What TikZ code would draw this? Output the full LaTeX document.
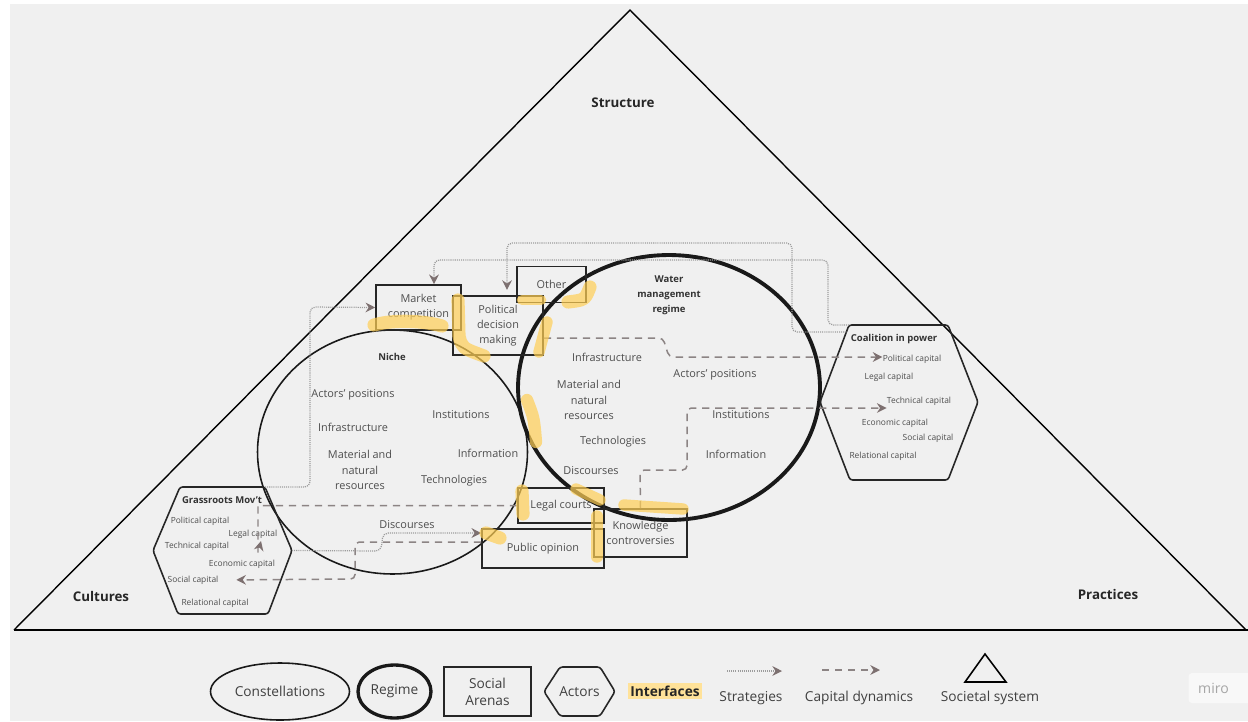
\documentclass[tikz,border=0pt]{standalone}
\usepackage{fontspec}
\setmainfont{Open Sans}
\usetikzlibrary{arrows.meta,shapes.geometric,calc}
\definecolor{bgGray}{HTML}{F0F0F0}
\definecolor{txtGray}{HTML}{4E4E4E}
\definecolor{lineGray}{HTML}{9C9C9C}
\definecolor{dashGray}{HTML}{8C8484}
\definecolor{tipGray}{HTML}{7D7070}
\definecolor{hiYellow}{HTML}{FFCF55}

\begin{document}
\begin{tikzpicture}[x=0.02cm, y=-0.02cm,
  lbl/.style={font=\fontsize{6.2}{8.6}\selectfont, text=txtGray, align=center, inner sep=0pt},
  capitem/.style={font=\fontsize{4.8}{6}\selectfont, text=txtGray, inner sep=0pt},
  ttl/.style={font=\fontsize{5.4}{8.5}\selectfont\bfseries, text=black!80, align=center, inner sep=0pt},
  corner/.style={font=\fontsize{7.6}{9}\selectfont\bfseries, text=black!85, inner sep=0pt},
  legend/.style={font=\fontsize{7.8}{9.6}\selectfont, text=black!75, align=center, inner sep=0pt},
  arena/.style={draw=black!85, line width=0.9pt},
  conste/.style={draw=black!90, ellipse, line width=0.9pt},
  regime/.style={draw=black!90, ellipse, line width=2.2pt},
  actor/.style={draw=black!85, line width=0.9pt, rounded corners=1.5pt},
  strat/.style={draw=lineGray, line width=0.7pt, dash pattern=on 0.6pt off 0.6pt, rounded corners=3pt,
    -{Stealth[length=5.5pt, width=5.5pt, inset=1.8pt, color=tipGray]}},
  capdyn/.style={draw=dashGray, line width=0.85pt, dash pattern=on 4.2pt off 3.2pt, rounded corners=2.5pt,
    -{Stealth[length=5.5pt, width=5.5pt, inset=1.8pt, color=tipGray]}},
  iface/.style={draw=hiYellow, draw opacity=0.7, line width=7.5pt, line cap=round, line join=round},
]
\useasboundingbox (0,0) rectangle (1248,721);
\fill[white] (0,0) rectangle (1248,721);
\fill[bgGray] (10,4) rectangle (1248,721);

% societal system
\draw[line width=0.8pt] (14,630) -- (630,10) -- (1246,630);
\draw[line width=0.8pt] (14,630) -- (1248,630);
\node[corner] (structure) at (623,103) {Structure};
\node[corner] (cultures) at (101,596) {Cultures};
\node[corner] (practices) at (1108,594) {Practices};

% constellations
\node[conste, minimum width=5.4cm, minimum height=4.88cm] (niche) at (392.5,452) {};
\node[regime, minimum width=6.04cm, minimum height=5.3cm] (wmr) at (669,387.5) {};

% social arenas
\node[arena, lbl, minimum width=1.7cm, minimum height=0.9cm] (market) at (418.5,307.5) {Market\\competition};
\node[arena, lbl, minimum width=1.8cm, minimum height=1.18cm] (political) at (498,325.5) {Political\\decision\\making};
\node[arena, lbl, minimum width=1.38cm, minimum height=0.72cm] (other) at (551.5,284.5) {Other};
\node[arena, lbl, minimum width=1.72cm, minimum height=0.7cm] (legal) at (561,505.5) {Legal courts};
\node[arena, lbl, minimum width=2.44cm, minimum height=0.78cm] (public) at (543,548.5) {Public opinion};
\node[arena, lbl, minimum width=1.86cm, minimum height=0.96cm] (knowledge) at (640.5,533) {Knowledge\\controversies};

% actors
\coordinate (gr-l) at (153,550.5);
\coordinate (gr-tl) at (180,487);
\coordinate (gr-tr) at (265,487);
\coordinate (gr-r) at (292,550.5);
\coordinate (gr-br) at (268,614);
\coordinate (gr-bl) at (178,614);
\draw[actor] (gr-l) -- (gr-tl) -- (gr-tr) -- (gr-r) -- (gr-br) -- (gr-bl) -- cycle;
\coordinate (co-l) at (820,402);
\coordinate (co-tl) at (849,325);
\coordinate (co-tr) at (948,325);
\coordinate (co-r) at (978,402);
\coordinate (co-br) at (948,480);
\coordinate (co-bl) at (850,480);
\draw[actor] (co-l) -- (co-tl) -- (co-tr) -- (co-r) -- (co-br) -- (co-bl) -- cycle;

\node[ttl] (gr-title) at (222,500) {Grassroots Mov't};
\node[capitem] (gr-pol) at (200,521) {Political capital};
\node[capitem] (gr-legal) at (253,534) {Legal capital};
\node[capitem] (gr-tech) at (197,546) {Technical capital};
\node[capitem] (gr-eco) at (242,564) {Economic capital};
\node[capitem] (gr-soc) at (193,580) {Social capital};
\node[capitem] (gr-rel) at (215,603) {Relational capital};

\node[ttl] (co-title) at (894,339) {Coalition in power};
\node[capitem] (co-pol) at (912,359) {Political capital};
\node[capitem] (co-legal) at (889,377) {Legal capital};
\node[capitem] (co-tech) at (919,401) {Technical capital};
\node[capitem] (co-eco) at (895,423) {Economic capital};
\node[capitem] (co-soc) at (928,438) {Social capital};
\node[capitem] (co-rel) at (883,456) {Relational capital};

% niche contents
\node[ttl] (ni-title) at (392,357) {Niche};
\node[lbl] (ni-act) at (353,395) {Actors' positions};
\node[lbl] (ni-infra) at (353,427) {Infrastructure};
\node[lbl] (ni-mat) at (360,470) {Material and\\natural\\resources};
\node[lbl] (ni-inst) at (461,415) {Institutions};
\node[lbl] (ni-info) at (488,453) {Information};
\node[lbl] (ni-tech) at (454,481) {Technologies};
\node[lbl] (ni-disc) at (407,525) {Discourses};

% regime contents
\node[ttl] (re-title) at (669,295) {Water\\management\\regime};
\node[lbl] (re-infra) at (607,357) {Infrastructure};
\node[lbl] (re-mat) at (589,400) {Material and\\natural\\resources};
\node[lbl] (re-act) at (715,375) {Actors' positions};
\node[lbl] (re-inst) at (741,415) {Institutions};
\node[lbl] (re-tech) at (613,442) {Technologies};
\node[lbl] (re-info) at (736,454) {Information};
\node[lbl] (re-disc) at (591,471) {Discourses};

% strategies
\draw[strat] (gr-tr) -- (310,487) -- (310,307) -- (market.west);
\draw[strat] (gr-r) -- (381,551) -- (383,533) -- (public.west |- 0,533);
\draw[strat] (co-tl) -- (828,325) -- (828,260) -- (434,260) -- (market.north -| 434,0);
\draw[strat, shorten >=3pt] ($(co-tl)!0.09!(co-l)$) -- (792,332) -- (792,243) -- (507,243) -- (political.north -| 507,0);

% capital dynamics
\draw[capdyn] (political.east |- 0,338) -- (663,338) -- (669,357) -- (co-pol.west |- 0,357);
\draw[capdyn] (knowledge.north) -- (640,470) -- (687,470) -- (687,408) -- (co-tech.west |- 0,408);
\draw[capdyn, sharp corners] (legal.west) -- (258,505.5) -- (258,553) -- (261,541);
\draw[capdyn, shorten >=10pt] (public.west |- 0,542) -- (355,542) -- (355,579) -- (gr-soc.east);

% interfaces
\draw[iface] (374,325) .. controls (395,319) and (425,321) .. (442,326);
\draw[iface] (458,300) -- (459,336) .. controls (462,348) .. (484,356);
\draw[iface, line width=6pt] (522,300) -- (541,300);
\draw[iface] (568,302) .. controls (585,300) .. (590,287);
\draw[iface, line width=6.5pt] (547,322) -- (539,352);
\draw[iface, line width=7pt] (527,400) .. controls (534,418) .. (536,442);
\draw[iface] (522,491) -- (523,514);
\draw[iface, line width=6.5pt] (576,489) -- (600,500);
\draw[iface, line width=6.5pt] (624,505) -- (683,509);
\draw[iface, line width=6.5pt] (597,516) -- (597,557);
\draw[iface] (486,533) -- (500,538);

% legend
\node[conste, legend, minimum width=2.78cm, minimum height=1.14cm] (lg-const) at (280,691.5) {Constellations};
\node[regime, legend, line width=1.9pt, minimum width=1.46cm, minimum height=1.06cm] (lg-regime) at (394.5,691.5) {Regime};
\node[arena, legend, minimum width=1.74cm, minimum height=0.98cm] (lg-arena) at (487.5,691.5) {Social\\Arenas};
\draw[actor] (544,691.5) -- (560,667) -- (600,667) -- (615,691.5) -- (600,716) -- (560,716) -- cycle;
\node[legend] (lg-actor) at (579.5,691.5) {Actors};
\node[legend, font=\fontsize{7.8}{9.6}\selectfont\bfseries, text=black!85, fill=hiYellow!60, inner sep=1.5pt] (lg-iface) at (665,691) {Interfaces};
\coordinate (lg-s1) at (727,671);
\coordinate (lg-s2) at (782,671);
\draw[strat] (lg-s1) -- (lg-s2);
\node[legend] (lg-strat) at (751,698) {Strategies};
\coordinate (lg-c1) at (822,670);
\coordinate (lg-c2) at (880,670);
\draw[capdyn] (lg-c1) -- (lg-c2);
\node[legend] (lg-cap) at (859,698) {Capital dynamics};
\draw[line width=0.9pt] (965,682) -- (985,654) -- (1006,682) -- cycle;
\node[legend] (lg-soc) at (990,698) {Societal system};
\node[fill=white!55!bgGray, rounded corners=2pt, minimum width=1.9cm, minimum height=0.6cm,
  font=\fontsize{8}{9}\selectfont, text=black!35] (miro) at (1236,688) {\hspace*{-0.9cm}miro};
\end{tikzpicture}
\end{document}
